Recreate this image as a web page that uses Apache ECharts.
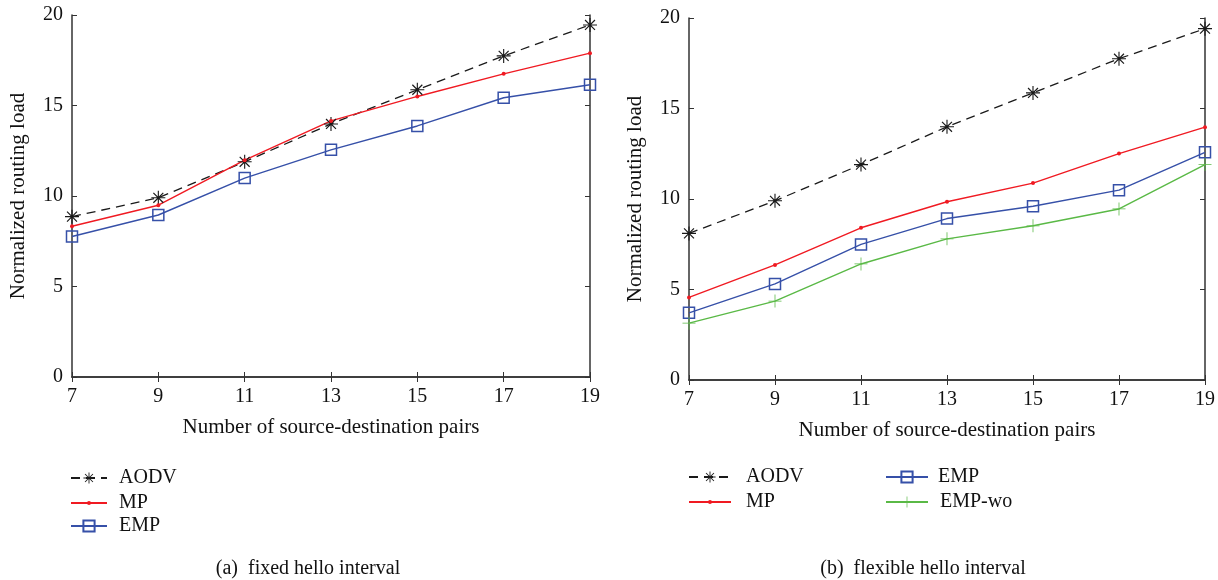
<!DOCTYPE html>
<html>
<head>
<meta charset="utf-8">
<script src="https://cdn.jsdelivr.net/npm/echarts@6/dist/echarts.min.js"></script>
<style>
  html, body { margin: 0; padding: 0; background: #fff; }
  #chart { width: 1218px; height: 580px; }
</style>
</head>
<body>
<div id="chart"></div>
<script>
// x categories (number of source-destination pairs)
const pairs = ['7', '9', '11', '13', '15', '17', '19']

// (a) fixed hello interval
const aodvFixed = [8.86, 9.9, 11.89, 13.98, 15.87, 17.74, 19.45]
const mpFixed = [8.33, 9.49, 11.98, 14.15, 15.5, 16.75, 17.89]
const empFixed = [7.76, 8.95, 10.99, 12.55, 13.87, 15.43, 16.15]

// (b) flexible hello interval
const aodvFlex = [8.1, 9.9, 11.9, 13.99, 15.86, 17.75, 19.41]
const mpFlex = [4.56, 6.36, 8.41, 9.85, 10.88, 12.51, 13.97]
const empFlex = [3.71, 5.31, 7.49, 8.92, 9.6, 10.49, 12.58]
const empWoFlex = [3.14, 4.36, 6.41, 7.8, 8.52, 9.45, 11.9]

const FONT = '"Liberation Serif", "DejaVu Serif", serif'
const BLACK = '#1a1a1a'
const RED = '#f01a22'
const BLUE = '#3650a8'
const GREEN = '#5ab946'

// asterisk marker (matlab '*')
const STAR = 'path://M0,9.2L20,9.2L20,10.8L0,10.8Z M9.2,0L10.8,0L10.8,20L9.2,20Z ' +
  'M2.3,3.5L3.5,2.3L17.7,16.5L16.5,17.7Z M16.5,2.3L17.7,3.5L3.5,17.7L2.3,16.5Z'
// plus marker (matlab '+')
const PLUS = 'path://M0,9.4L20,9.4L20,10.6L0,10.6Z M9.4,0L10.6,0L10.6,20L9.4,20Z'

const grids = [
  { left: 72, width: 518, top: 15, height: 362 },
  { left: 689, width: 519, top: 18, height: 362 }
]

function xAxes(gi) {
  return [
    {
      type: 'category', gridIndex: gi, data: pairs, boundaryGap: false,
      name: 'Number of source-destination pairs', nameLocation: 'middle', nameGap: 40,
      nameTextStyle: { fontFamily: FONT, fontSize: 21, color: '#111' },
      axisLine: { lineStyle: { color: '#333', width: 1.5 } },
      axisTick: { inside: true, length: 5, lineStyle: { color: '#333' } },
      axisLabel: { fontFamily: FONT, fontSize: 20, color: '#111', margin: 10 },
      splitLine: { show: false }
    },
    {
      type: 'category', gridIndex: gi, data: pairs, boundaryGap: false, position: 'top',
      axisLine: { lineStyle: { color: '#333', width: 1.5 } },
      axisTick: { inside: true, length: 5, lineStyle: { color: '#333' } },
      axisLabel: { show: false },
      splitLine: { show: false }
    }
  ]
}

function yAxes(gi) {
  return [
    {
      type: 'value', gridIndex: gi, min: 0, max: 20, interval: 5,
      name: 'Normalized routing load', nameLocation: 'middle', nameGap: 43,
      nameTextStyle: { fontFamily: FONT, fontSize: 21, color: '#111' },
      axisLine: { show: true, lineStyle: { color: '#333', width: 1.5 } },
      axisTick: { show: true, inside: true, length: 5, lineStyle: { color: '#333' } },
      axisLabel: { fontFamily: FONT, fontSize: 20, color: '#111', margin: 9 },
      splitLine: { show: false }
    },
    {
      type: 'value', gridIndex: gi, min: 0, max: 20, interval: 5, position: 'right',
      axisLine: { show: true, lineStyle: { color: '#333', width: 1.5 } },
      axisTick: { show: true, inside: true, length: 5, lineStyle: { color: '#333' } },
      axisLabel: { show: false },
      splitLine: { show: false }
    }
  ]
}

function aodv(data, gi) {
  return {
    name: 'AODV', type: 'line', data: data, xAxisIndex: gi * 2, yAxisIndex: gi * 2,
    symbol: STAR, symbolSize: 14, showAllSymbol: true,
    lineStyle: { color: BLACK, width: 1.3, type: [9, 6] },
    itemStyle: { color: BLACK }
  }
}
function mp(data, gi) {
  return {
    name: 'MP', type: 'line', data: data, xAxisIndex: gi * 2, yAxisIndex: gi * 2,
    symbol: 'circle', symbolSize: 4,
    lineStyle: { color: RED, width: 1.4 },
    itemStyle: { color: RED }
  }
}
function emp(data, gi) {
  return {
    name: 'EMP', type: 'line', data: data, xAxisIndex: gi * 2, yAxisIndex: gi * 2,
    symbol: 'rect', symbolSize: 11,
    lineStyle: { color: BLUE, width: 1.4 },
    itemStyle: { color: 'rgba(255,255,255,0)', borderColor: BLUE, borderWidth: 1.5 }
  }
}
function empWo(data, gi) {
  return {
    name: 'EMP-wo', type: 'line', data: data, xAxisIndex: gi * 2, yAxisIndex: gi * 2,
    symbol: PLUS, symbolSize: 13,
    lineStyle: { color: GREEN, width: 1.4 },
    itemStyle: { color: GREEN }
  }
}

// one legend per entry so each row sits where it does in the figure
function legendItem(name, left, centerY, w, h, gap) {
  return {
    data: [name], left: left, top: centerY - 12,
    itemWidth: w, itemHeight: h, itemGap: 0,
    textStyle: { fontFamily: FONT, fontSize: 20, color: '#111', lineHeight: 20, padding: [0, 0, 0, gap - 5] }
  }
}

const chart = echarts.init(document.getElementById('chart'))
chart.setOption({
  animation: false,
  backgroundColor: '#fff',
  title: [
    { text: '(a)  fixed hello interval', left: 303, top: 554, textAlign: 'center',
      textStyle: { fontFamily: FONT, fontSize: 20, fontWeight: 'normal', color: '#111' } },
    { text: '(b)  flexible hello interval', left: 918, top: 554, textAlign: 'center',
      textStyle: { fontFamily: FONT, fontSize: 20, fontWeight: 'normal', color: '#111' } }
  ],
  legend: [
    legendItem('AODV', 65, 475, 36, 14, 12),
    legendItem('MP', 65, 500, 36, 5, 12),
    legendItem('EMP', 65, 523, 36, 14, 12),
    legendItem('AODV', 683, 474, 42, 14, 15),
    legendItem('MP', 683, 499, 42, 5, 15),
    legendItem('EMP', 880, 474, 42, 14, 10),
    legendItem('EMP-wo', 880, 499, 42, 14, 12)
  ],
  grid: grids,
  xAxis: xAxes(0).concat(xAxes(1)),
  yAxis: yAxes(0).concat(yAxes(1)),
  series: [
    aodv(aodvFixed, 0), mp(mpFixed, 0), emp(empFixed, 0),
    aodv(aodvFlex, 1), mp(mpFlex, 1), emp(empFlex, 1), empWo(empWoFlex, 1)
  ]
})
</script>
</body>
</html>
